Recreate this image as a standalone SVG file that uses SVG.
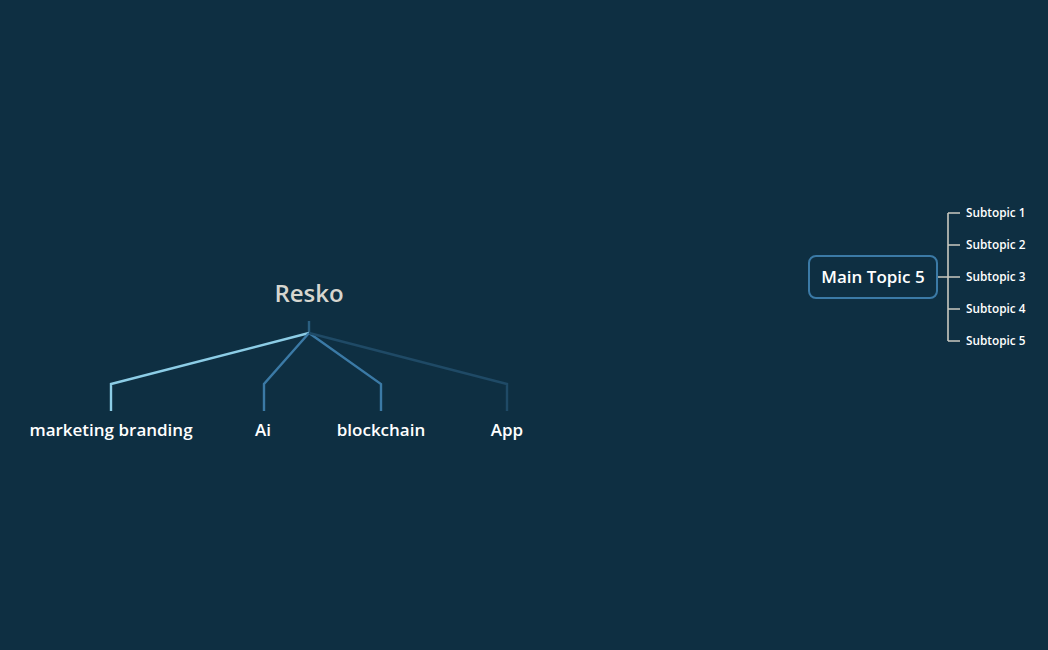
<svg xmlns="http://www.w3.org/2000/svg" width="1048" height="650" viewBox="0 0 1048 650">
<style>
.t{font-family:"Open Sans","Liberation Sans",sans-serif;font-weight:600;fill:#ffffff;text-anchor:middle}
.sub{font-family:"Open Sans","Liberation Sans",sans-serif;font-weight:600;fill:#ffffff;font-size:11.8px}
.c{fill:none;stroke-width:2.4;stroke-linejoin:miter}
.g{fill:none;stroke:#c9c9c0;stroke-width:1.6}
</style>
<rect width="1048" height="650" fill="#0e2f42"/>
<g id="connectors">
<path class="c" d="M309 321V333" stroke="#2a5f80"/>
<path class="c" d="M309 333L111 384V411" stroke="#8ccde6"/>
<path class="c" d="M309 333L264 384V411" stroke="#3b7aa6"/>
<path class="c" d="M309 333L381 384V411" stroke="#3b7aa6"/>
<path class="c" d="M309 333L507 384V411" stroke="#1f4a66"/>
<path class="g" d="M937 277H948M948 213V341M948 213H960M948 245H960M948 277H960M948 309H960M948 341H960"/>
</g>
<g id="root"><text class="t" x="309" y="302" font-size="24" font-weight="bold" style="fill:#d6d6cf">Resko</text></g>
<g id="n1"><text class="t" x="111" y="436" font-size="17">marketing branding</text></g>
<g id="n2"><text class="t" x="263" y="436" font-size="17">Ai</text></g>
<g id="n3"><text class="t" x="381" y="436" font-size="17">blockchain</text></g>
<g id="n4"><text class="t" x="507" y="436" font-size="17">App</text></g>
<g id="main5"><rect x="809" y="256" width="128" height="42" rx="7" fill="#0e2f42" stroke="#3b7aa6" stroke-width="2"/><text class="t" x="873" y="283" font-size="17">Main Topic 5</text></g>
<g id="s1"><text class="sub" x="966" y="217">Subtopic 1</text></g>
<g id="s2"><text class="sub" x="966" y="249">Subtopic 2</text></g>
<g id="s3"><text class="sub" x="966" y="281">Subtopic 3</text></g>
<g id="s4"><text class="sub" x="966" y="313">Subtopic 4</text></g>
<g id="s5"><text class="sub" x="966" y="345">Subtopic 5</text></g>
</svg>
